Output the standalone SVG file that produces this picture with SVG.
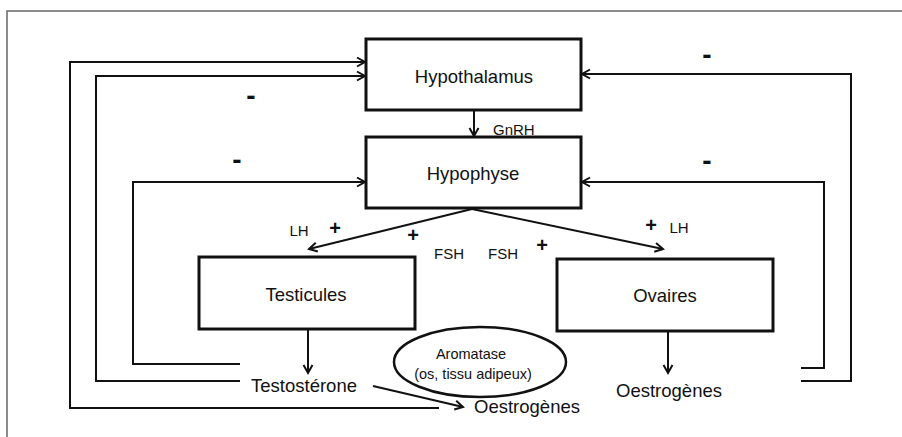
<svg xmlns="http://www.w3.org/2000/svg" width="902" height="437" viewBox="0 0 902 437">
<style>
.box{fill:#fff;stroke:#111;stroke-width:3}
.ln{fill:none;stroke:#111;stroke-width:2}
.t{font-family:"Liberation Sans",Arial,sans-serif;fill:#111;text-anchor:middle}
.big{font-size:18.5px}
.sm{font-size:15px}
.ar{font-size:14.5px}
.sign{font-family:"Liberation Sans",Arial,sans-serif;font-weight:bold;fill:#111;text-anchor:middle}
</style>
<defs>
<marker id="ah" markerUnits="userSpaceOnUse" markerWidth="12" markerHeight="12" refX="9" refY="5" orient="auto" viewBox="0 0 12 10">
<path d="M1,0.5 L9,5 L1,9.5" fill="none" stroke="#111" stroke-width="2"/>
</marker>
</defs>
<rect width="902" height="437" fill="#fff"/>
<path d="M7,437 V11 H902" fill="none" stroke="#666" stroke-width="1.5"/>
<g id="connectors">
<path class="ln" d="M439,408 H70 V62 H365" marker-end="url(#ah)"/>
<path class="ln" d="M240,381 H96 V76 H365" marker-end="url(#ah)"/>
<path class="ln" d="M240,364 H133 V182 H365" marker-end="url(#ah)"/>
<path class="ln" d="M801,381 H851 V74 H582" marker-end="url(#ah)"/>
<path class="ln" d="M801,368 H824 V182 H582" marker-end="url(#ah)"/>
<path class="ln" d="M474,111 V136" marker-end="url(#ah)"/>
<path class="ln" d="M472,209 L309,249" marker-end="url(#ah)"/>
<path class="ln" d="M472,209 L663,249" marker-end="url(#ah)"/>
<path class="ln" d="M308,330 V373" marker-end="url(#ah)"/>
<path class="ln" d="M668,332 V373" marker-end="url(#ah)"/>
<path class="ln" d="M373,386 L463,407" marker-end="url(#ah)"/>
</g>
<g id="hypothalamus">
<rect class="box" x="366" y="39" width="215" height="71"/>
<text class="t big" x="474" y="83">Hypothalamus</text>
</g>
<g id="hypophyse">
<rect class="box" x="366" y="137" width="215" height="71"/>
<text class="t big" x="473" y="180">Hypophyse</text>
</g>
<g id="testicules">
<rect class="box" x="199" y="257" width="216" height="72"/>
<text class="t big" x="306" y="301">Testicules</text>
</g>
<g id="ovaires">
<rect class="box" x="557" y="259" width="216" height="72"/>
<text class="t big" x="665" y="302">Ovaires</text>
</g>
<g id="aromatase">
<ellipse cx="480" cy="362" rx="86" ry="35" fill="none" stroke="#111" stroke-width="2.5"/>
<text class="t ar" x="471" y="359">Aromatase</text>
<text class="t ar" x="473" y="379">(os, tissu adipeux)</text>
</g>
<g id="testosterone">
<text class="t big" x="304" y="392">Testostérone</text>
</g>
<g id="oestrogenes-ovaires">
<text class="t big" x="669" y="397">Oestrogènes</text>
</g>
<g id="oestrogenes-aromatase">
<text class="t big" x="527" y="413">Oestrogènes</text>
</g>
<g id="labels">
<text class="t sm" x="493" y="135" style="text-anchor:start">GnRH</text>
<text class="t sm" x="299" y="236">LH</text>
<text class="t sm" x="449" y="259">FSH</text>
<text class="t sm" x="503" y="259">FSH</text>
<text class="t sm" x="679" y="233">LH</text>
<text class="sign" font-size="20" x="335" y="235">+</text>
<text class="sign" font-size="20" x="413" y="242">+</text>
<text class="sign" font-size="20" x="542" y="252">+</text>
<text class="sign" font-size="20" x="651" y="232">+</text>
<text class="sign" font-size="28" x="251" y="105">-</text>
<text class="sign" font-size="28" x="237" y="169">-</text>
<text class="sign" font-size="28" x="707" y="64">-</text>
<text class="sign" font-size="28" x="707" y="170">-</text>
</g>
</svg>
